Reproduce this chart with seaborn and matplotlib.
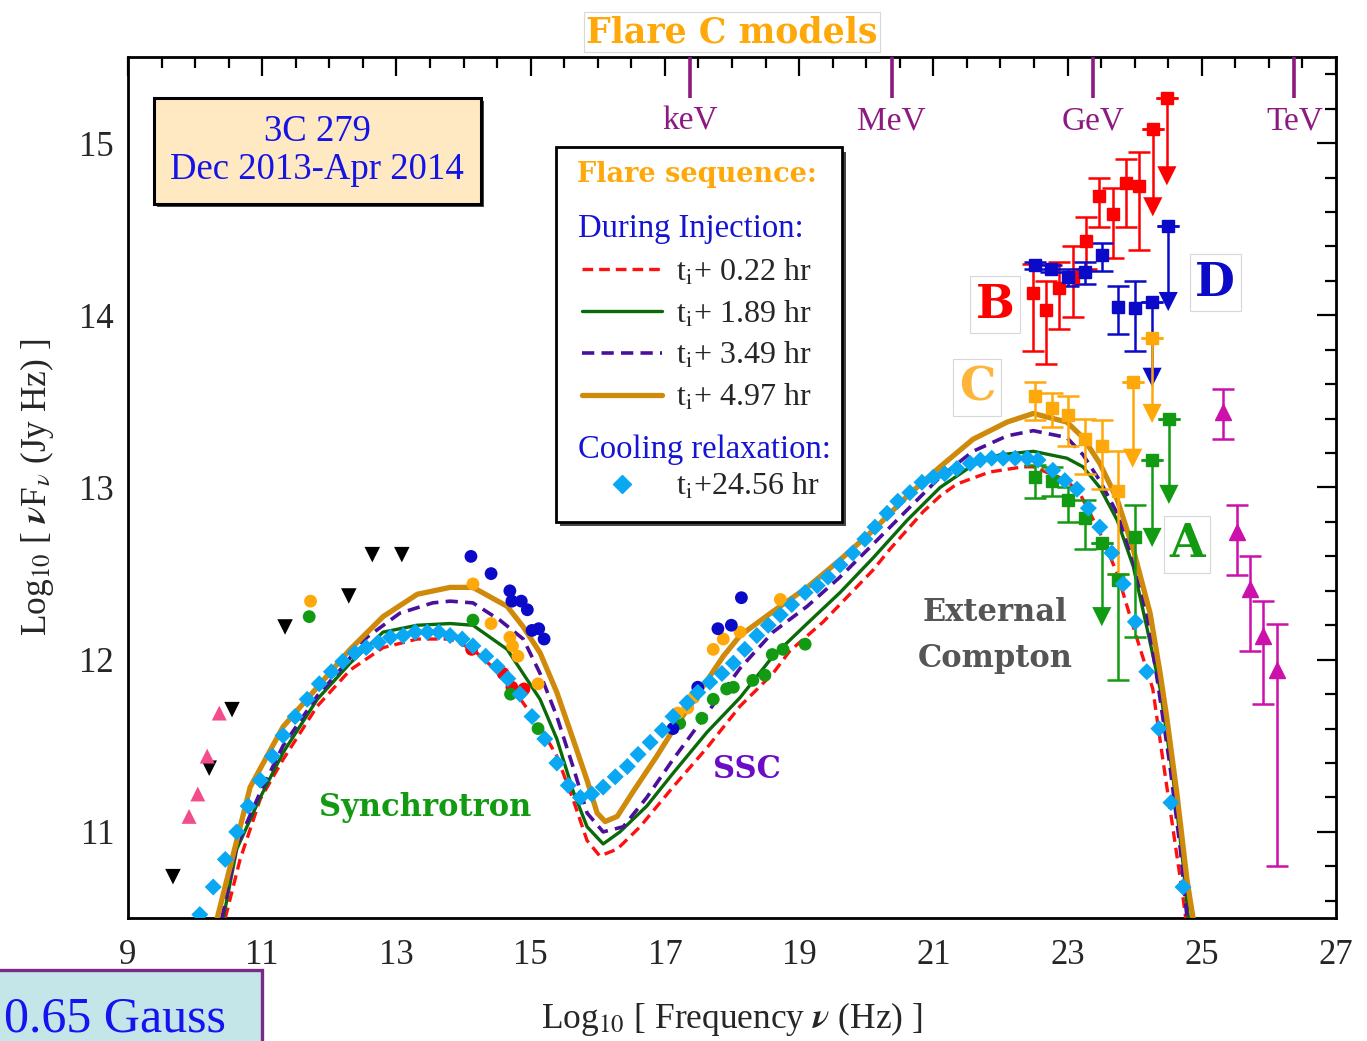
import numpy as np
import pandas as pd
import seaborn as sns
import matplotlib
matplotlib.use("Agg")
import matplotlib.pyplot as plt
from matplotlib.lines import Line2D
from matplotlib.patches import Rectangle
from matplotlib.ticker import MultipleLocator
import matplotlib.patheffects as pe

sns.set_style("white")
plt.rcParams['font.family'] = ['Liberation Serif', 'DejaVu Serif']
plt.rcParams['mathtext.fontset'] = 'stix'

# ---------------- model curves (log nu, log nuFnu) ----------------
red_x = [10.45, 10.67, 10.97, 11.31, 11.82, 12.31, 12.80, 13.31, 13.80, 14.14, 14.65, 15.14, 15.39,
         15.63, 15.84, 16.03, 16.29, 16.63, 17.12, 17.63, 18.12, 18.61, 18.86, 19.36, 20.10, 20.35,
         20.85, 21.10, 21.35, 21.84, 22.34, 22.49, 22.99, 23.19, 23.48, 23.74, 23.98, 24.27, 24.42,
         24.57, 24.72, 24.76]
red_y = [10.50, 10.84, 11.19, 11.42, 11.73, 11.94, 12.07, 12.12, 12.12, 12.06, 11.88, 11.61, 11.44,
         11.19, 10.95, 10.86, 10.90, 11.03, 11.26, 11.49, 11.73, 11.92, 12.05, 12.22, 12.52, 12.64,
         12.86, 12.95, 13.02, 13.09, 13.12, 13.12, 13.04, 12.96, 12.74, 12.50, 12.19, 11.83, 11.42,
         11.02, 10.62, 10.50]

green_x = [10.42, 10.62, 10.97, 11.31, 11.82, 12.31, 12.80, 13.31, 13.80, 14.14, 14.65, 15.14, 15.39,
           15.63, 15.84, 16.08, 16.33, 16.73, 17.12, 17.63, 18.12, 18.61, 19.12, 19.61, 20.10, 20.61,
           21.10, 21.59, 21.99, 22.49, 22.99, 23.23, 23.48, 23.74, 23.98, 24.18, 24.38, 24.57, 24.72,
           24.80]
green_y = [10.50, 10.90, 11.20, 11.46, 11.77, 11.98, 12.16, 12.20, 12.21, 12.20, 12.06, 11.77, 11.54,
           11.24, 11.03, 10.93, 11.00, 11.15, 11.34, 11.58, 11.78, 12.02, 12.21, 12.39, 12.59, 12.81,
           13.00, 13.13, 13.19, 13.21, 13.17, 13.12, 13.00, 12.81, 12.54, 12.19, 11.83, 11.32, 10.82,
           10.50]

purple_x = [10.40, 10.62, 10.97, 11.31, 11.82, 12.16, 12.56, 13.05, 13.54, 13.80, 14.14, 14.54, 14.89,
            15.14, 15.39, 15.63, 15.84, 16.08, 16.38, 16.73, 17.12, 17.63, 18.12, 18.61, 19.12, 19.61,
            20.10, 20.61, 21.10, 21.59, 22.10, 22.49, 22.99, 23.23, 23.48, 23.74, 23.98, 24.18, 24.33,
            24.52, 24.68, 24.78]
purple_y = [10.50, 10.92, 11.23, 11.50, 11.79, 11.94, 12.13, 12.27, 12.33, 12.34, 12.33, 12.23, 12.12,
            11.92, 11.67, 11.38, 11.11, 11.00, 11.03, 11.20, 11.42, 11.69, 11.95, 12.16, 12.31, 12.48,
            12.67, 12.87, 13.06, 13.21, 13.30, 13.33, 13.29, 13.19, 13.04, 12.85, 12.58, 12.27, 11.90,
            11.40, 10.90, 10.50]

gold_x = [10.33, 10.82, 11.31, 11.82, 12.31, 12.80, 13.31, 13.80, 14.14, 14.65, 14.89, 15.14, 15.39,
          15.63, 15.84, 15.99, 16.11, 16.29, 16.52, 16.88, 17.12, 17.37, 17.63, 17.87, 18.12, 18.61,
          19.12, 19.61, 20.10, 20.61, 21.10, 21.59, 22.10, 22.49, 22.99, 23.23, 23.48, 23.74, 23.98,
          24.23, 24.38, 24.48, 24.63, 24.78, 24.87]
gold_y = [10.50, 11.26, 11.61, 11.84, 12.06, 12.25, 12.38, 12.42, 12.42, 12.31, 12.19, 12.04, 11.81,
          11.54, 11.30, 11.11, 11.06, 11.09, 11.23, 11.44, 11.59, 11.73, 11.88, 12.02, 12.14, 12.28,
          12.42, 12.58, 12.75, 12.95, 13.12, 13.28, 13.38, 13.43, 13.38, 13.29, 13.14, 12.93, 12.64,
          12.27, 11.92, 11.66, 11.22, 10.72, 10.50]

cool_x = [10.07, 10.27, 10.45, 10.62, 10.79, 10.97, 11.15, 11.31, 11.49, 11.67, 11.85, 12.03, 12.20,
          12.38, 12.55, 12.73, 12.91, 13.10, 13.28, 13.46, 13.63, 13.80, 13.98, 14.14, 14.33, 14.50,
          14.66, 14.84, 15.02, 15.21, 15.39, 15.56, 15.74, 15.91, 16.08, 16.26, 16.44, 16.60, 16.78,
          16.96, 17.12, 17.33, 17.49, 17.67, 17.85, 18.02, 18.19, 18.37, 18.54, 18.72, 18.89, 19.09,
          19.27, 19.43, 19.61, 19.80, 19.98, 20.13, 20.31, 20.47, 20.65, 20.83, 21.00, 21.17, 21.35,
          21.55, 21.70, 21.87, 22.04, 22.22, 22.40, 22.56, 22.78, 22.96, 23.14, 23.31, 23.48, 23.66,
          23.83, 24.01, 24.18, 24.36, 24.54, 24.72]
cool_y = [10.52, 10.68, 10.84, 11.00, 11.15, 11.30, 11.44, 11.56, 11.67, 11.77, 11.86, 11.93, 11.99,
          12.04, 12.07, 12.10, 12.13, 12.14, 12.16, 12.16, 12.16, 12.14, 12.12, 12.08, 12.02, 11.96,
          11.89, 11.80, 11.67, 11.54, 11.40, 11.27, 11.20, 11.22, 11.26, 11.32, 11.38, 11.45, 11.52,
          11.59, 11.67, 11.75, 11.81, 11.87, 11.92, 11.98, 12.06, 12.14, 12.20, 12.26, 12.32, 12.39,
          12.43, 12.48, 12.55, 12.62, 12.70, 12.77, 12.85, 12.92, 12.97, 13.03, 13.06, 13.08, 13.11,
          13.14, 13.16, 13.17, 13.17, 13.17, 13.17, 13.16, 13.10, 13.04, 12.99, 12.88, 12.77, 12.62,
          12.44, 12.22, 11.93, 11.60, 11.17, 10.68]

# ---------------- observations ----------------
black_ul_x = [9.67, 10.21, 10.55, 11.34, 12.29, 12.64, 13.08]
black_ul_y = [10.74, 11.37, 11.71, 12.19, 12.37, 12.61, 12.61]
pink_x = [9.91, 10.04, 10.18, 10.36]
pink_y = [11.09, 11.22, 11.44, 11.69]

orange_dot_x = [11.72, 14.14, 14.41, 14.69, 14.73, 14.81, 15.11, 17.19, 17.34, 17.43, 17.72, 17.87, 18.12, 18.72]
orange_dot_y = [12.34, 12.44, 12.21, 12.13, 12.08, 12.02, 11.86, 11.69, 11.72, 11.78, 12.06, 12.12, 12.16, 12.35]
green_dot_x = [11.70, 14.14, 14.70, 15.11, 17.22, 17.55, 17.72, 17.92, 18.02, 18.31, 18.49, 18.60, 18.76, 19.09]
green_dot_y = [12.25, 12.23, 11.80, 11.60, 11.63, 11.66, 11.77, 11.83, 11.84, 11.88, 11.91, 12.03, 12.06, 12.09]
blue_dot_x = [14.11, 14.41, 14.69, 14.72, 14.86, 14.95, 15.02, 15.12, 15.20, 17.12, 17.49, 17.79, 17.99, 18.14]
blue_dot_y = [12.60, 12.50, 12.40, 12.34, 12.34, 12.29, 12.17, 12.18, 12.12, 11.60, 11.84, 12.18, 12.20, 12.36]
red_dot_x = [14.12, 14.59, 14.72, 14.90]
red_dot_y = [12.06, 11.92, 11.84, 11.83]

# Fermi-LAT spectra: value, lower bound, upper bound
B_x = [22.48, 22.68, 22.87, 23.08, 23.28, 23.47, 23.68, 23.87, 24.06]
B_y = [14.13, 14.03, 14.16, 14.22, 14.43, 14.69, 14.59, 14.77, 14.75]
B_lo = [13.79, 13.72, 13.92, 13.99, 14.27, 14.51, 14.33, 14.51, 14.38]
B_hi = [14.30, 14.20, 14.31, 14.40, 14.57, 14.80, 14.74, 14.91, 14.95]
B_ul_x = [24.27, 24.48]
B_ul_y = [15.08, 15.26]
B_ul_end = [14.63, 14.81]

D_x = [22.52, 22.75, 23.01, 23.26, 23.51, 23.75, 24.00]
D_y = [14.29, 14.27, 14.22, 14.25, 14.35, 14.05, 14.04]
D_lo = [14.27, 14.25, 14.17, 14.18, 14.26, 13.89, 13.79]
D_hi = [14.31, 14.29, 14.27, 14.31, 14.42, 14.17, 14.20]
D_ul_x = [24.26, 24.50]
D_ul_y = [14.08, 14.52]
D_ul_end = [13.64, 14.08]

C_x = [22.52, 22.77, 23.01, 23.26, 23.51, 23.75]
C_y = [13.53, 13.46, 13.42, 13.28, 13.24, 12.98]
C_lo = [13.39, 13.35, 13.24, 13.08, 12.99, 12.50]
C_hi = [13.61, 13.55, 13.53, 13.40, 13.39, 13.21]
C_ul_x = [23.97, 24.26]
C_ul_y = [13.61, 13.87]
C_ul_end = [13.17, 13.43]

A_x = [22.52, 22.77, 23.01, 23.26, 23.75, 24.01]
A_y = [13.06, 13.04, 12.93, 12.82, 12.46, 12.71]
A_lo = [12.94, 12.95, 12.80, 12.64, 11.88, 12.13]
A_hi = [13.13, 13.12, 13.00, 12.93, 12.50, 12.90]
A_ul_x = [23.51, 24.26, 24.51]
A_ul_y = [12.68, 13.16, 13.40]
A_ul_end = [12.25, 12.71, 12.96]

VHE_x = [25.32, 25.52, 25.72, 25.91, 26.12]
VHE_y = [13.44, 12.74, 12.41, 12.14, 11.94]
VHE_lo = [13.28, 12.49, 12.05, 11.74, 10.80]
VHE_hi = [13.57, 12.90, 12.60, 12.34, 12.21]

energy_labels = ['keV', 'MeV', 'GeV', 'TeV']
energy_lognu = [17.38, 20.38, 23.38, 26.38]

x_ticks = list(range(9, 28, 2))
y_ticks = [11, 12, 13, 14, 15]

legend_labels = ['t$_{\\rm i}$+ 0.22 hr', 't$_{\\rm i}$+ 1.89 hr', 't$_{\\rm i}$+ 3.49 hr',
                 't$_{\\rm i}$+ 4.97 hr']
cool_label = 't$_{\\rm i}$+24.56 hr'

# colours
C_RED = '#FF1010'
C_GREEN = '#0A6A0A'
C_PURPLE = '#4A109C'
C_GOLD = '#CF8A0C'
C_CYAN = '#0AA8F2'
D_RED = '#FF0000'
D_BLUE = '#0A0AC8'
D_ORANGE = '#FFA80A'
D_GREEN = '#129A12'
D_MAG = '#CC10AA'
D_PINK = '#F24C8C'
C_PURP_TXT = '#8C1A80'

fig = plt.figure(figsize=(13.67, 10.41), dpi=100)
ax = fig.add_axes([0.09364, 0.11816, 0.88369, 0.82709])

# model curves
sns.lineplot(x=red_x, y=red_y, ax=ax, color=C_RED, lw=2.4, linestyle=(0, (3.2, 1.8)),
             estimator=None, sort=False, zorder=3)
sns.lineplot(x=green_x, y=green_y, ax=ax, color=C_GREEN, lw=2.4, estimator=None, sort=False, zorder=3)
sns.lineplot(x=purple_x, y=purple_y, ax=ax, color=C_PURPLE, lw=2.6, linestyle=(0, (3.4, 2.0)),
             estimator=None, sort=False, zorder=3)
sns.lineplot(x=gold_x, y=gold_y, ax=ax, color=C_GOLD, lw=3.8, estimator=None, sort=False, zorder=3)

# low-frequency data
sns.scatterplot(x=black_ul_x, y=black_ul_y, ax=ax, marker='v', s=125, color='black',
                edgecolor='none', zorder=4)
sns.scatterplot(x=pink_x, y=pink_y, ax=ax, marker='^', s=115, color=D_PINK, edgecolor='none', zorder=4)
for xs, ys, col in [(red_dot_x, red_dot_y, D_RED), (green_dot_x, green_dot_y, D_GREEN),
                    (orange_dot_x, orange_dot_y, D_ORANGE), (blue_dot_x, blue_dot_y, D_BLUE)]:
    sns.scatterplot(x=xs, y=ys, ax=ax, marker='o', s=85, color=col, edgecolor='none', zorder=4)


def spectrum(xs, ys, lo, hi, col, marker='s', ms=8.5):
    ys = np.asarray(ys)
    yerr = [ys - np.asarray(lo), np.asarray(hi) - ys]
    ax.errorbar(xs, ys, yerr=yerr, fmt=marker, ms=ms, color=col, ecolor=col, elinewidth=1.8,
                capsize=8, capthick=1.8, zorder=5)


def upper_limits(xs, ys, ends, col):
    ax.errorbar(xs, ys, yerr=0, fmt='s', ms=8.5, color=col, ecolor=col, capsize=8, capthick=1.8,
                elinewidth=1.8, zorder=5)
    ax.vlines(xs, ends, ys, colors=col, lw=1.8, zorder=5)
    ax.scatter(xs, ends, marker='v', s=190, color=col, edgecolor='none', zorder=5)


spectrum(B_x, B_y, B_lo, B_hi, D_RED)
upper_limits(B_ul_x, B_ul_y, B_ul_end, D_RED)
spectrum(D_x, D_y, D_lo, D_hi, D_BLUE)
upper_limits(D_ul_x, D_ul_y, D_ul_end, D_BLUE)
spectrum(C_x, C_y, C_lo, C_hi, D_ORANGE)
upper_limits(C_ul_x, C_ul_y, C_ul_end, D_ORANGE)
spectrum(A_x, A_y, A_lo, A_hi, D_GREEN)
upper_limits(A_ul_x, A_ul_y, A_ul_end, D_GREEN)
spectrum(VHE_x, VHE_y, VHE_lo, VHE_hi, D_MAG, marker='^', ms=11)

# cooling relaxation diamonds
sns.scatterplot(x=cool_x, y=cool_y, ax=ax, marker='D', s=75, color=C_CYAN, edgecolor='none', zorder=6)

# axes
ax.set_xlim(9, 27)
ax.set_ylim(10.5, 15.5)
ax.set_xticks(x_ticks)
ax.set_yticks(y_ticks)
ax.xaxis.set_minor_locator(MultipleLocator(0.5))
ax.yaxis.set_minor_locator(MultipleLocator(0.2))
ax.tick_params(which='both', direction='in', top=True, right=True, width=1.6, color='black')
ax.tick_params(which='major', length=14, labelsize=25)
ax.tick_params(which='minor', length=8)
ax.tick_params(axis='x', which='major', pad=15)
ax.tick_params(axis='y', which='major', pad=10)
for sp in ax.spines.values():
    sp.set_linewidth(2.0)
    sp.set_color('black')

ax.set_xlabel('Log$_{10}$ [ Frequency $\\boldsymbol{\\nu}$ (Hz) ]', fontsize=25.5, labelpad=20)
ax.set_ylabel('Log$_{10}$ [ $\\boldsymbol{\\nu}$F$_{\\nu}$ (Jy Hz) ]', fontsize=25.5, labelpad=17)

# energy markers on top
ax.vlines(energy_lognu, 0.952, 1.0, transform=ax.get_xaxis_transform(), colors=C_PURP_TXT, lw=2.6,
          zorder=7)
for lab, xv in zip(energy_labels, energy_lognu):
    ax.text(xv, 0.925, lab, transform=ax.get_xaxis_transform(), ha='center', va='center',
            fontsize=24, color=C_PURP_TXT)

# annotations
bold = dict(family='DejaVu Serif', weight='bold')
ax.text(13.43, 11.14, 'Synchrotron', color='#129A12', fontsize=22, ha='center', va='center', **bold)
ax.text(18.22, 11.36, 'SSC', color='#6A0CC8', fontsize=22, ha='center', va='center', **bold)
ax.text(21.92, 12.14, 'External\nCompton', color='#555555', fontsize=22, ha='center', va='center',
        linespacing=1.6, **bold)
letter_box = dict(boxstyle='square,pad=0.12', fc='white', ec='#d8d8d8', lw=0.8)
ax.text(21.92, 14.06, 'B', color='#FF0000', fontsize=33, ha='center', va='center', bbox=letter_box, **bold)
ax.text(21.65, 13.58, 'C', color='#FFB43C', fontsize=33, ha='center', va='center', bbox=letter_box, **bold)
ax.text(25.20, 14.19, 'D', color='#0A0AC8', fontsize=33, ha='center', va='center', bbox=letter_box, **bold)
ax.text(24.78, 12.67, 'A', color='#129A12', fontsize=33, ha='center', va='center', bbox=letter_box, **bold)

# source box
src = ax.text(0.1565, 0.891, '3C 279\nDec 2013-Apr 2014', transform=ax.transAxes, ha='center',
              va='center', multialignment='center', fontsize=26.5, color='#1414E6', linespacing=1.15,
              bbox=dict(boxstyle='square,pad=0.45', fc='#FFE9C2', ec='black', lw=2.2), zorder=10)
src.get_bbox_patch().set_path_effects([pe.SimplePatchShadow(offset=(2.5, -2.5), shadow_rgbFace='#333333',
                                                            alpha=0.9), pe.Normal()])

# legend box (custom)
box = Rectangle((0.354, 0.460), 0.237, 0.435, transform=ax.transAxes, fc='white', ec='black', lw=2.0,
                zorder=10)
box.set_path_effects([pe.SimplePatchShadow(offset=(3, -3), shadow_rgbFace='#333333', alpha=0.9), pe.Normal()])
ax.add_patch(box)
ax.text(0.4706, 0.864, 'Flare sequence:', transform=ax.transAxes, ha='center', va='center',
        fontsize=19.5, color='#FFA80A', zorder=11, **bold)
ax.text(0.3725, 0.801, 'During Injection:', transform=ax.transAxes, ha='left', va='center',
        fontsize=23.5, color='#1414D2', zorder=11)
ax.text(0.3725, 0.5435, 'Cooling relaxation:', transform=ax.transAxes, ha='left', va='center',
        fontsize=23.5, color='#1414D2', zorder=11)
handles = [Line2D([], [], color=C_RED, lw=2.4, linestyle=(0, (3.2, 1.8))),
           Line2D([], [], color=C_GREEN, lw=2.4),
           Line2D([], [], color=C_PURPLE, lw=2.6, linestyle=(0, (3.4, 2.0))),
           Line2D([], [], color=C_GOLD, lw=3.8)]
leg1 = ax.legend(handles, legend_labels, loc='center left', bbox_to_anchor=(0.3758, 0.677),
                 frameon=False, fontsize=23, handlelength=2.5, handletextpad=0.44, labelspacing=0.36,
                 borderpad=0, borderaxespad=0)
leg1.set_zorder(12)
ax.add_artist(leg1)
leg2 = ax.legend([Line2D([], [], color=C_CYAN, marker='D', ms=9.5, linestyle='none')], [cool_label],
                 loc='center left', bbox_to_anchor=(0.3758, 0.5006), frameon=False, fontsize=23,
                 handlelength=2.5, handletextpad=0.44, borderpad=0, borderaxespad=0)
leg2.set_zorder(12)

# title
fig.text(0.5355, 0.969, 'Flare C models', ha='center', va='center', fontsize=25, color='#FFA80A',
         bbox=dict(boxstyle='square,pad=0.08', fc='white', ec='#d8d8d8', lw=0.8), **bold)

# magnetic field box (bottom-left, at the figure edge)
fig.patches.append(Rectangle((-0.01, -0.01), 0.2017, 0.0782, transform=fig.transFigure, fc='#C4E6E8',
                             ec='#7A2A86', lw=2.4, figure=fig))
fig.text(0.003, 0.021, '0.65 Gauss', ha='left', va='center', fontsize=36, color='#1414F0')

fig.savefig('out.png', dpi=100)
